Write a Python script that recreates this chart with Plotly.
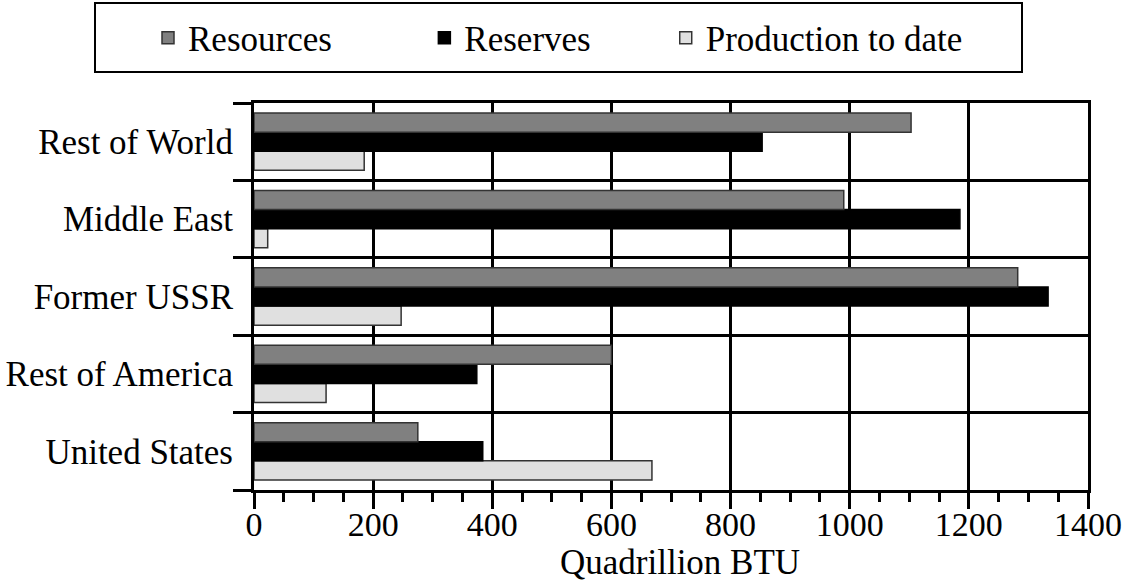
import plotly.graph_objects as go

categories = ["United States", "Rest of America", "Former USSR", "Middle East", "Rest of World"]
resources = [275, 600, 1282, 990, 1103]
reserves = [384, 374, 1333, 1185, 853]
production = [668, 121, 247, 23, 185]

series_names = ["Resources", "Reserves", "Production to date"]
series_colors = ["#808080", "#000000", "#e0e0e0"]
series_edges = ["#333333", "#000000", "#333333"]
# trailing non-breaking spaces widen the legend entries to the reference spacing
legend_pad = [10, 8, 0]
x_title = "Quadrillion BTU"

FONT = "Liberation Serif"
FS = 34
FS_BIG = 35

fig = go.Figure()
# plotly stacks the first trace lowest in a horizontal group, so add in reverse
for name, vals, col, edge, pad in reversed(list(zip(series_names, [resources, reserves, production],
                                                     series_colors, series_edges, legend_pad))):
    fig.add_trace(go.Bar(
        y=categories, x=vals, name=name + "\u00a0" * pad, orientation="h",
        marker=dict(color=col, line=dict(color=edge, width=1.5)),
    ))

W, H = 1123, 583
L, R, T, B = 254, 35, 103, 93
pw, ph = W - L - R, H - T - B

def px_x(px):
    return (px - L) / pw

def px_y(py):
    return (H - B - py) / ph

fig.update_layout(
    width=W, height=H,
    margin=dict(l=L, r=R, t=T, b=B, pad=0, autoexpand=False),
    paper_bgcolor="white", plot_bgcolor="white",
    barmode="group", bargap=0.26, bargroupgap=0,
    font=dict(family=FONT, size=FS, color="black"),
    legend=dict(
        orientation="h", traceorder="reversed",
        x=px_x(148), xanchor="left", y=px_y(38), yanchor="middle",
        font=dict(family=FONT, size=FS_BIG, color="black"),
        bgcolor="rgba(0,0,0,0)", borderwidth=0,
    ),
    shapes=[dict(type="rect", xref="paper", yref="paper",
                 x0=px_x(95), x1=px_x(1022), y0=px_y(72), y1=px_y(3),
                 line=dict(color="black", width=2), fillcolor="rgba(0,0,0,0)", layer="below")],
    annotations=[dict(text=x_title, xref="paper", yref="paper",
                      x=px_x(680), y=px_y(562), xanchor="center", yanchor="middle",
                      showarrow=False, font=dict(family=FONT, size=FS_BIG, color="black"))],
    xaxis=dict(
        range=[0, 1400], dtick=200, tick0=0, automargin=False,
        showgrid=True, gridcolor="black", gridwidth=3,
        showline=True, linecolor="black", linewidth=3, mirror=True,
        ticks="outside", ticklen=16, tickwidth=3, tickcolor="black",
        minor=dict(dtick=50, ticks="outside", ticklen=9, tickwidth=3, tickcolor="black", showgrid=False),
        zeroline=False, ticklabelstandoff=-14,
        tickfont=dict(family=FONT, size=FS, color="black"),
        fixedrange=True,
    ),
    yaxis=dict(
        type="category", categoryorder="array", categoryarray=categories,
        tickson="boundaries", automargin=False,
        showgrid=True, gridcolor="black", gridwidth=3,
        showline=True, linecolor="black", linewidth=3, mirror=True,
        ticks="outside", ticklen=18, tickwidth=3, tickcolor="black",
        tickfont=dict(family=FONT, size=FS_BIG, color="black"),
        zeroline=False, fixedrange=True, ticklabelstandoff=11,
    ),
)

fig.write_html("out.html", config={"displayModeBar": False},
               post_script="document.body.style.margin='0';")
